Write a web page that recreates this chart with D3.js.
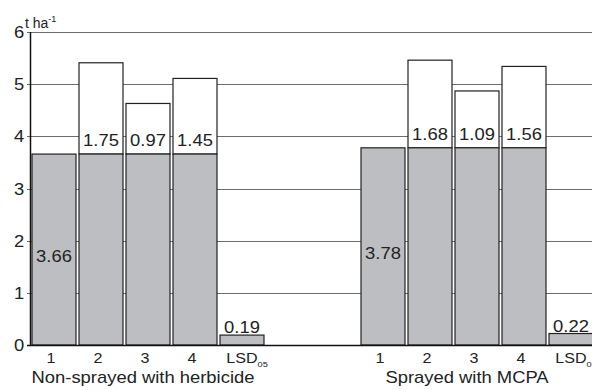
<!DOCTYPE html>
<html>
<head>
<meta charset="utf-8">
<script src="https://cdn.jsdelivr.net/npm/d3@7"></script>
<style>
  body { margin: 0; background: #fff; }
  svg { font-family: "Liberation Sans", Arial, sans-serif; }
</style>
</head>
<body>
<div id="chart"></div>
<script>
// datos
var groups = ['Non-sprayed with herbicide', 'Sprayed with MCPA'];
var categories = ['1', '2', '3', '4', 'LSD'];
var baseYield = [3.66, 3.78];                       // parte gris (control)
var increaseNon = [0, 1.75, 0.97, 1.45];            // incremento, sin herbicida
var increaseMcpa = [0, 1.68, 1.09, 1.56];           // incremento, MCPA
var lsdValues = [0.19, 0.22];
var yTicks = [0, 1, 2, 3, 4, 5, 6];

var increases = [increaseNon, increaseMcpa];

var width = 592, height = 390;
var stretch = 1.15; // el texto original es algo mas ancho que Arial
var svg = d3.select('#chart').append('svg')
    .attr('width', width)
    .attr('height', height);

// coloca un texto en (x, y) con el estiramiento horizontal
function placeText(sel, px, py) {
    return sel.attr('transform', 'translate(' + px + ',' + py + ') scale(' + stretch + ',1)');
}

// ---------ESCALAS------------
// 5 barras por grupo + 2 huecos entre grupos
var slots = [];
groups.forEach(function (g, gi) {
    categories.forEach(function (c) { slots.push(gi + '-' + c); });
    if (gi === 0) { slots.push('gap1'); slots.push('gap2'); }
});

var x = d3.scaleBand()
    .domain(slots)
    .range([30.5, 594.5])
    .paddingInner(0.064)
    .paddingOuter(0.032);

var y = d3.scaleLinear()
    .domain([0, 6])
    .range([345, 32]);

// lineas de grilla
svg.append('g')
    .selectAll('line')
    .data(yTicks.filter(function (d) { return d > 0; }))
    .enter().append('line')
    .attr('x1', 27).attr('x2', width)
    .attr('y1', function (d) { return Math.round(y(d)) + 0.5; })
    .attr('y2', function (d) { return Math.round(y(d)) + 0.5; })
    .attr('stroke', '#6e6e6e')
    .attr('stroke-width', 1.2);

// etiquetas eje Y
yTicks.forEach(function (d) {
    placeText(svg.append('text'), 19, y(d) + 6)
        .attr('text-anchor', 'middle')
        .attr('font-size', 16)
        .attr('fill', '#222')
        .text(d);
});

// unidad
var unit = svg.append('text')
    .attr('x', 25)
    .attr('y', 28)
    .attr('font-size', 14)
    .attr('fill', '#222');
unit.append('tspan').text('t ha');
unit.append('tspan').attr('font-size', 9).attr('dy', -6).text('-1');

// barras
var bars = svg.append('g');
groups.forEach(function (g, gi) {
    var base = baseYield[gi];
    categories.forEach(function (c, ci) {
        var key = gi + '-' + c;
        var bx = x(key), bw = x.bandwidth();
        if (c === 'LSD') {
            var v = lsdValues[gi];
            bars.append('rect')
                .attr('x', bx).attr('width', bw)
                .attr('y', y(v)).attr('height', y(0) - y(v))
                .attr('fill', '#bdbec2').attr('stroke', '#222').attr('stroke-width', 1.2);
            placeText(bars.append('text'), bx + bw / 2, y(v) - 2)
                .attr('text-anchor', 'middle').attr('font-size', 16).attr('fill', '#222')
                .text(v.toFixed(2));
            return;
        }
        var inc = increases[gi][ci];
        if (inc > 0) {
            bars.append('rect')
                .attr('x', bx).attr('width', bw)
                .attr('y', y(base + inc)).attr('height', y(base) - y(base + inc))
                .attr('fill', '#fff').attr('stroke', '#222').attr('stroke-width', 1.2);
            placeText(bars.append('text'), bx + bw / 2, y(base) - 8)
                .attr('text-anchor', 'middle').attr('font-size', 16).attr('fill', '#222')
                .text(inc.toFixed(2));
        }
        bars.append('rect')
            .attr('x', bx).attr('width', bw)
            .attr('y', y(base)).attr('height', y(0) - y(base))
            .attr('fill', '#bdbec2').attr('stroke', '#222').attr('stroke-width', 1.2);
        if (inc === 0) {
            placeText(bars.append('text'), bx + bw / 2, y(base / 2) + 12.5)
                .attr('text-anchor', 'middle').attr('font-size', 16).attr('fill', '#222')
                .text(base.toFixed(2));
        }
    });

    // etiquetas de categoria
    categories.forEach(function (c) {
        var key = gi + '-' + c;
        var cx = x(key) + x.bandwidth() / 2 - 3;
        var t = svg.append('text')
            .attr('text-anchor', 'middle').attr('font-size', 14).attr('fill', '#222');
        if (c === 'LSD') {
            placeText(t, cx + 8, 363);
            t.append('tspan').text('LSD');
            t.append('tspan').attr('font-size', 8).attr('dy', 4).text('05');
        } else {
            placeText(t, cx, 363);
            t.text(c);
        }
    });

    // nombre del grupo
    var first = x(gi + '-1'), last = x(gi + '-LSD') + x.bandwidth();
    placeText(svg.append('text'), (first + last) / 2 - (gi === 0 ? 5 : 10), 383)
        .attr('text-anchor', 'middle')
        .attr('font-size', 16)
        .attr('fill', '#222')
        .text(g);
});

// ejes
svg.append('line')
    .attr('x1', 30.5).attr('x2', 30.5)
    .attr('y1', y(6)).attr('y2', y(0) + 0.5)
    .attr('stroke', '#111').attr('stroke-width', 1.5);
svg.append('line')
    .attr('x1', 27).attr('x2', width)
    .attr('y1', Math.round(y(0)) + 0.5).attr('y2', Math.round(y(0)) + 0.5)
    .attr('stroke', '#111').attr('stroke-width', 1.5);
</script>
</body>
</html>
